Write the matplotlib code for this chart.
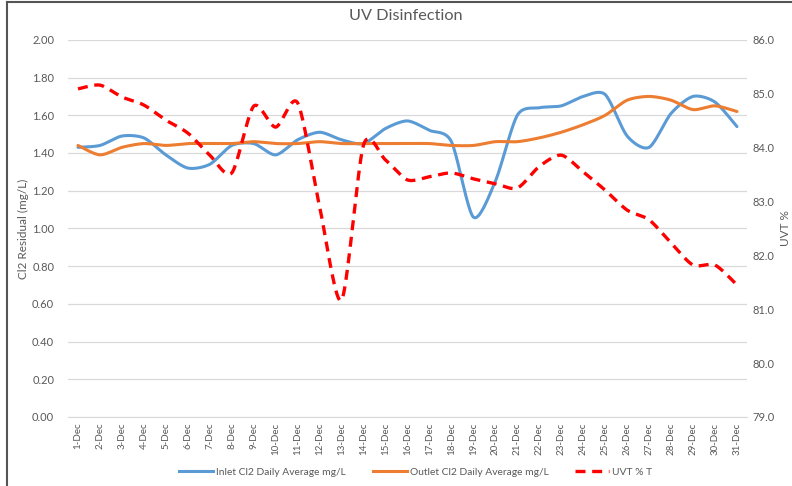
import matplotlib
matplotlib.use("Agg")
import matplotlib.pyplot as plt
from matplotlib.lines import Line2D
import numpy as np

plt.rcParams['font.family'] = ['Lato', 'DejaVu Sans']

# Data
days = [str(d) + "-Dec" for d in range(1, 32)]
inlet = [1.43, 1.44, 1.49, 1.48, 1.39, 1.32, 1.34, 1.44, 1.45, 1.39,
         1.47, 1.51, 1.47, 1.45, 1.53, 1.57, 1.52, 1.46, 1.06, 1.25,
         1.60, 1.64, 1.65, 1.70, 1.71, 1.49, 1.43, 1.61, 1.70, 1.67, 1.54]
outlet = [1.44, 1.39, 1.43, 1.45, 1.44, 1.45, 1.45, 1.45, 1.46, 1.45,
          1.45, 1.46, 1.45, 1.45, 1.45, 1.45, 1.45, 1.44, 1.44, 1.46,
          1.46, 1.48, 1.51, 1.55, 1.60, 1.68, 1.70, 1.68, 1.63, 1.65, 1.62]
uvt = [85.09, 85.16, 84.94, 84.79, 84.51, 84.27, 83.86, 83.53, 84.77, 84.38,
       84.83, 82.90, 81.17, 84.05, 83.77, 83.40, 83.46, 83.53, 83.42, 83.33,
       83.25, 83.65, 83.86, 83.55, 83.21, 82.84, 82.66, 82.23, 81.82, 81.82, 81.45]

text_col = "#595959"
grid_col = "#d9d9d9"


# Smooth curve through the points (cardinal spline, like Excel's smoothed line)
def smooth(y, steps=20):
    y = np.asarray(y, dtype=float)
    x = np.arange(len(y), dtype=float)
    px = np.concatenate([[x[0]], x, [x[-1]]])
    py = np.concatenate([[y[0]], y, [y[-1]]])
    xs, ys = [], []
    t = np.linspace(0, 1, steps, endpoint=False)
    for i in range(1, len(px) - 2):
        for arr, out in ((px, xs), (py, ys)):
            p0, p1, p2, p3 = arr[i - 1], arr[i], arr[i + 1], arr[i + 2]
            m1 = (p2 - p0) / 2 * 0.8
            m2 = (p3 - p1) / 2 * 0.8
            h00 = 2 * t**3 - 3 * t**2 + 1
            h10 = t**3 - 2 * t**2 + t
            h01 = -2 * t**3 + 3 * t**2
            h11 = t**3 - t**2
            out.extend(h00 * p1 + h10 * m1 + h01 * p2 + h11 * m2)
    xs.append(x[-1])
    ys.append(y[-1])
    return np.array(xs), np.array(ys)


fig = plt.figure(figsize=(7.92, 4.86), dpi=100)
ax = fig.add_axes([0.086, 0.142, 0.857, 0.776])
ax2 = ax.twinx()

x = np.arange(len(days))
sx, sy = smooth(inlet)
ax.plot(sx, sy, color="#5b9bd5", lw=2.2, solid_capstyle="round", zorder=3)
sx, sy = smooth(outlet)
ax.plot(sx, sy, color="#ed7d31", lw=2.2, solid_capstyle="round", zorder=3)
sx, sy = smooth(uvt)
ax2.plot(sx, sy, color="#ff0000", lw=2.4, dashes=(3, 2), zorder=3)

ax.set_ylim(0, 2.0)
ax.set_yticks(np.arange(0, 2.01, 0.2))
ax.set_yticklabels(["%.2f" % v for v in np.arange(0, 2.01, 0.2)])
ax2.set_ylim(79, 86)
ax2.set_yticks(np.arange(79, 86.1, 1))
ax2.set_yticklabels(["%.1f" % v for v in np.arange(79, 86.1, 1)])
ax.set_xlim(-0.45, 30.45)
ax.set_xticks(x)
ax.set_xticklabels(days, rotation=90)

ax.grid(axis="y", color=grid_col, lw=0.9)
ax.set_axisbelow(True)
for a in (ax, ax2):
    for s in a.spines.values():
        s.set_visible(False)
    a.tick_params(length=0, colors=text_col, labelsize=8)
ax.spines["bottom"].set_visible(True)
ax.spines["bottom"].set_color(grid_col)
ax.tick_params(axis="y", pad=10)
ax2.tick_params(axis="y", pad=4)
ax.tick_params(axis="x", pad=4, labelsize=7)

ax.set_ylabel("Cl2 Residual (mg/L)", color=text_col, fontsize=8.5, labelpad=2)
ax2.set_ylabel("UVT %", color=text_col, fontsize=8.5, labelpad=4)
fig.text(0.513, 0.967, "UV Disinfection", ha="center", va="center",
         color=text_col, fontsize=11.7)

handles = [Line2D([], [], color="#5b9bd5", lw=2.2),
           Line2D([], [], color="#ed7d31", lw=2.2),
           Line2D([], [], color="#ff0000", lw=2.4, dashes=(3, 2))]
labels = ["Inlet Cl2 Daily Average mg/L", "Outlet Cl2 Daily Average mg/L", "UVT % T"]
fig.legend(handles, labels, loc="center", bbox_to_anchor=(0.525, 0.028), ncol=3,
           frameon=False, fontsize=7.4, labelcolor=text_col, handlelength=3.3,
           handletextpad=0.3, columnspacing=2.6)

# outer frame (left and top edges)
fig.add_artist(Line2D([0.009, 0.009], [0, 0.996], color="#555555", lw=1.5))
fig.add_artist(Line2D([0.009, 1], [0.996, 0.996], color="#555555", lw=1.5))

fig.savefig("out.png", dpi=100)
